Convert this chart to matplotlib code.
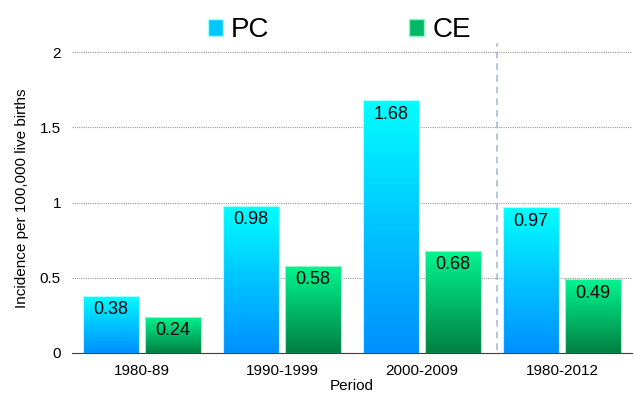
import numpy as np
import matplotlib.pyplot as plt
from matplotlib.colors import LinearSegmentedColormap
from matplotlib.patches import Patch

plt.rcParams['font.family'] = ['Liberation Sans', 'DejaVu Sans']

# Données
periods = ['1980-89', '1990-1999', '2000-2009', '1980-2012']
pc = [0.38, 0.98, 1.68, 0.97]
ce = [0.24, 0.58, 0.68, 0.49]

cmap_pc = LinearSegmentedColormap.from_list('pc', ['#0090ff', '#00c4ff', '#00ffff'])
cmap_ce = LinearSegmentedColormap.from_list('ce', ['#008040', '#00bb68', '#00f590'])

fig = plt.figure(figsize=(6.34, 4.0), dpi=100)
ax = fig.add_axes([0.1136, 0.1175, 0.8834, 0.775])

x = np.arange(len(periods))
w = 0.4
off = 0.221
grad = np.linspace(0, 1, 256).reshape(-1, 1)

def gradient_bars(xs, vals, cmap, edge):
    bars = ax.bar(xs, vals, width=w, color='none', edgecolor=edge, linewidth=0.8, zorder=3)
    for b, v in zip(bars, vals):
        x0 = b.get_x()
        im = ax.imshow(grad, cmap=cmap, origin='lower', aspect='auto',
                       extent=[x0, x0 + w, 0, v], zorder=2)
        im.set_clip_path(b)
        ax.annotate(f'{v:.2f}', (x0 + w / 2, v), xytext=(0, -4), textcoords='offset points',
                    ha='center', va='top', fontsize=13, zorder=4)
    return bars

gradient_bars(x - off, pc, cmap_pc, '#a8ffff')
gradient_bars(x + off, ce, cmap_ce, '#90f5c0')

ax.axvline(2.535, ymin=0.01, ymax=1.0, color='#a9bcd6', linestyle=(0, (4, 3)), linewidth=1.2, zorder=1)

ax.set_xlim(-0.5, 3.5)
ax.set_ylim(0, 2.06)
ax.set_yticks([0, 0.5, 1, 1.5, 2])
ax.set_yticklabels(['0', '0.5', '1', '1.5', '2'])
ax.set_xticks(x)
ax.set_xticklabels(periods)
ax.tick_params(length=0, labelsize=11, pad=8)
ax.tick_params(axis='x', pad=8)
ax.yaxis.grid(True, linestyle=(0, (1, 1)), color='#9a9a9a', linewidth=0.8, zorder=0)
for s in ['top', 'right', 'left']:
    ax.spines[s].set_visible(False)
ax.spines['bottom'].set_color('#404040')
ax.spines['bottom'].set_zorder(5)
ax.set_xlabel('Period', fontsize=11, labelpad=1)
ax.set_ylabel('Incidence per 100,000 live births', fontsize=11, labelpad=8)

handles = [Patch(facecolor='#00c8ff', edgecolor='#a8ffff'), Patch(facecolor='#00b866', edgecolor='#90f5c0')]
fig.legend(handles, ['PC', 'CE'], loc='upper center', bbox_to_anchor=(0.535, 1.02), ncol=2,
           frameon=False, fontsize=20, handlelength=0.55, handleheight=0.55,
           handletextpad=0.3, columnspacing=5.0)

fig.savefig('out.png', dpi=100)
